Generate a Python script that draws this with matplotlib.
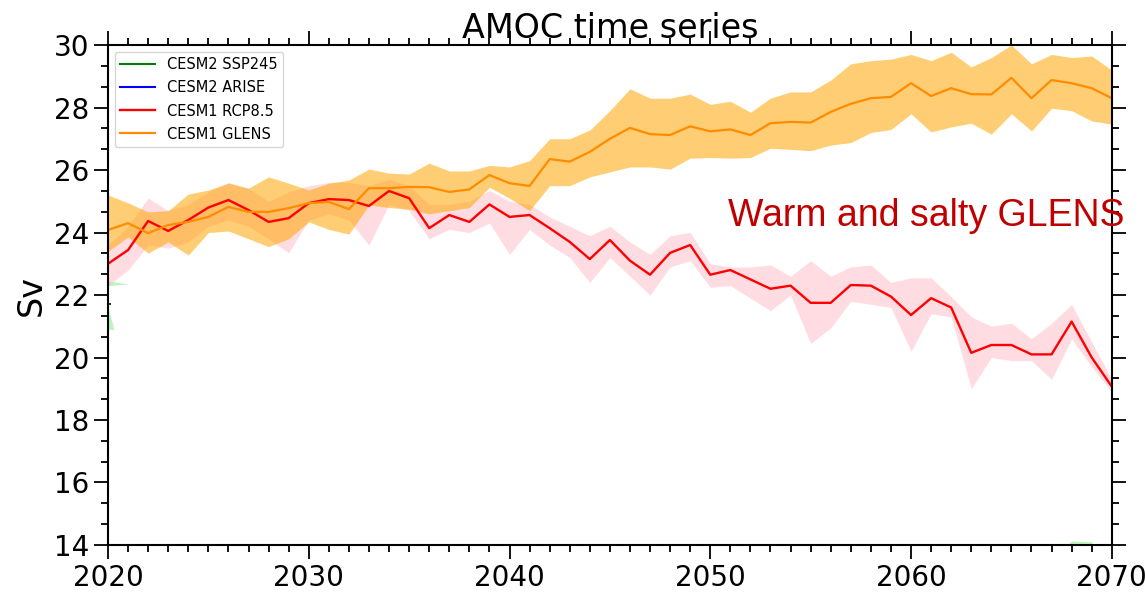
import matplotlib
matplotlib.use('Agg')
import matplotlib.pyplot as plt
from matplotlib.ticker import MultipleLocator, AutoMinorLocator
import numpy as np

years = np.arange(2020, 2071)

# CESM1 GLENS ensemble mean and spread (Sv)
glens_mean = [24.08, 24.3, 23.98, 24.24, 24.34, 24.5, 24.82, 24.66, 24.66, 24.78,
              24.94, 24.98, 24.75, 25.42, 25.42, 25.46, 25.45, 25.3, 25.38, 25.84,
              25.58, 25.49, 26.35, 26.27, 26.58, 27.0, 27.35, 27.15, 27.12, 27.4,
              27.24, 27.3, 27.12, 27.5, 27.54, 27.52, 27.86, 28.12, 28.3, 28.34,
              28.78, 28.37, 28.62, 28.43, 28.42, 28.95, 28.3, 28.88, 28.78, 28.62,
              28.3]
glens_hi = [25.2, 24.95, 24.66, 24.7, 25.23, 25.36, 25.58, 25.42, 25.78, 25.58,
            25.36, 25.58, 25.68, 26.03, 25.9, 25.87, 26.22, 25.97, 25.97, 26.15,
            26.1, 26.3, 27.0, 27.0, 27.28, 27.9, 28.6, 28.3, 28.3, 28.43,
            28.1, 28.2, 27.85, 28.3, 28.5, 28.5, 28.88, 29.4, 29.5, 29.55,
            29.7, 29.5, 29.77, 29.3, 29.6, 30.0, 29.4, 29.7, 29.6, 29.65,
            29.2]
glens_lo = [23.4, 23.86, 23.34, 23.7, 23.28, 24.0, 24.05, 23.8, 23.55, 23.8,
            24.34, 24.1, 23.95, 24.88, 24.8, 24.75, 24.6, 24.7, 24.8, 25.45,
            25.1, 24.7, 25.5, 25.5, 25.78, 25.94, 26.1, 26.1, 26.03, 26.38,
            26.4, 26.38, 26.4, 26.7, 26.66, 26.62, 26.8, 26.88, 27.2, 27.3,
            27.8, 27.22, 27.38, 27.5, 27.15, 27.8, 27.25, 27.98, 27.9, 27.57,
            27.47]

# CESM1 RCP8.5 ensemble mean and spread (Sv)
rcp_mean = [23.0, 23.44, 24.37, 24.05, 24.4, 24.8, 25.04, 24.72, 24.34, 24.46,
            24.94, 25.07, 25.04, 24.85, 25.33, 25.1, 24.14, 24.56, 24.34, 24.9,
            24.5, 24.56, 24.14, 23.7, 23.15, 23.76, 23.1, 22.65, 23.35, 23.6,
            22.65, 22.8, 22.5, 22.2, 22.3, 21.75, 21.75, 22.32, 22.3, 21.95,
            21.36, 21.9, 21.6, 20.15, 20.4, 20.4, 20.1, 20.1, 21.15, 20.0,
            19.07]
rcp_hi = [23.6, 24.2, 25.1, 24.7, 24.9, 25.3, 25.6, 25.4, 25.0, 25.3,
          25.5, 25.6, 25.6, 25.5, 25.7, 25.5, 24.9, 24.9, 25.0, 25.35,
          25.0, 24.9, 24.5, 24.2, 23.9, 24.2, 23.7, 23.3, 23.9, 24.0,
          23.0, 22.9, 22.9, 22.96, 22.6, 23.1, 22.6, 22.9, 22.96, 22.4,
          22.55, 22.55, 21.95, 21.3, 21.0, 21.1, 20.6, 21.1, 21.7, 20.5,
          19.3]
rcp_lo = [22.3, 22.8, 23.6, 23.5, 23.7, 24.2, 24.4, 24.2, 23.8, 23.35,
          24.4, 24.6, 24.4, 23.6, 24.9, 24.7, 23.8, 24.1, 24.0, 24.3,
          23.3, 24.1, 23.6, 23.2, 22.4, 23.2, 22.6, 22.0, 22.9, 23.1,
          22.25, 22.3, 21.9, 21.5, 22.0, 20.45, 20.95, 21.8, 21.7, 21.6,
          20.2, 21.4, 21.3, 19.0, 20.0, 19.9, 19.9, 19.3, 20.6, 19.7,
          18.9]

# CESM2 SSP245: only small slivers fall inside the axis range
ssp_years_a = [2020, 2021]
ssp_hi_a = [22.45, 22.35]
ssp_lo_a = [22.3, 22.35]
ssp_years_b = [2020, 2020.3]
ssp_hi_b = [21.6, 20.9]
ssp_lo_b = [20.9, 20.9]
ssp_years_c = [2067, 2068, 2069, 2070]
ssp_hi_c = [13.6, 14.13, 14.1, 11.0]
ssp_lo_c = [12.0, 12.0, 12.0, 11.0]

fig = plt.figure(figsize=(11.45, 5.93), dpi=100)
ax = fig.add_axes([0.0943, 0.081, 0.8767, 0.843])

ax.fill_between(ssp_years_a, ssp_lo_a, ssp_hi_a, color='lightgreen', alpha=0.6, lw=0)
ax.fill_between(ssp_years_b, ssp_lo_b, ssp_hi_b, color='lightgreen', alpha=0.6, lw=0)
ax.fill_between(ssp_years_c, ssp_lo_c, ssp_hi_c, color='lightgreen', alpha=0.6, lw=0)
ax.plot([2020, 2020.1], [21.7, 21.7], color='darkgreen', lw=1.5)

ax.fill_between(years, rcp_lo, rcp_hi, color='pink', alpha=0.55, lw=0)
ax.fill_between(years, glens_lo, glens_hi, color='orange', alpha=0.55, lw=0)

ax.plot([], [], color='green', lw=1.5, label='CESM2 SSP245')
ax.plot([], [], color='blue', lw=1.5, label='CESM2 ARISE')
ax.plot(years, rcp_mean, color='red', lw=1.7, label='CESM1 RCP8.5')
ax.plot(years, glens_mean, color='darkorange', lw=1.6, label='CESM1 GLENS')

ax.set_xlim(2020, 2070)
ax.set_ylim(14, 30)
ax.xaxis.set_major_locator(MultipleLocator(10))
ax.xaxis.set_minor_locator(MultipleLocator(1))
ax.yaxis.set_major_locator(MultipleLocator(2))
ax.yaxis.set_minor_locator(AutoMinorLocator(3))
ax.tick_params(which='both', direction='out', top=True, right=True, width=1.3)
ax.tick_params(which='major', length=10, labelsize=20)
ax.tick_params(which='minor', length=5)
for s in ax.spines.values():
    s.set_linewidth(1.5)

ax.set_title('AMOC time series', fontsize=24, pad=4)
ax.set_ylabel('Sv', fontsize=24)
ax.legend(loc='upper left', fontsize=10.5, handlelength=2.4, borderaxespad=0.45,
          labelspacing=0.55)

fig.text(728 / 1145, 1 - 226 / 593, 'Warm and salty GLENS', color='#C00000',
         fontsize=27, family='Liberation Sans', va='baseline')

fig.savefig('out.png', dpi=100)
